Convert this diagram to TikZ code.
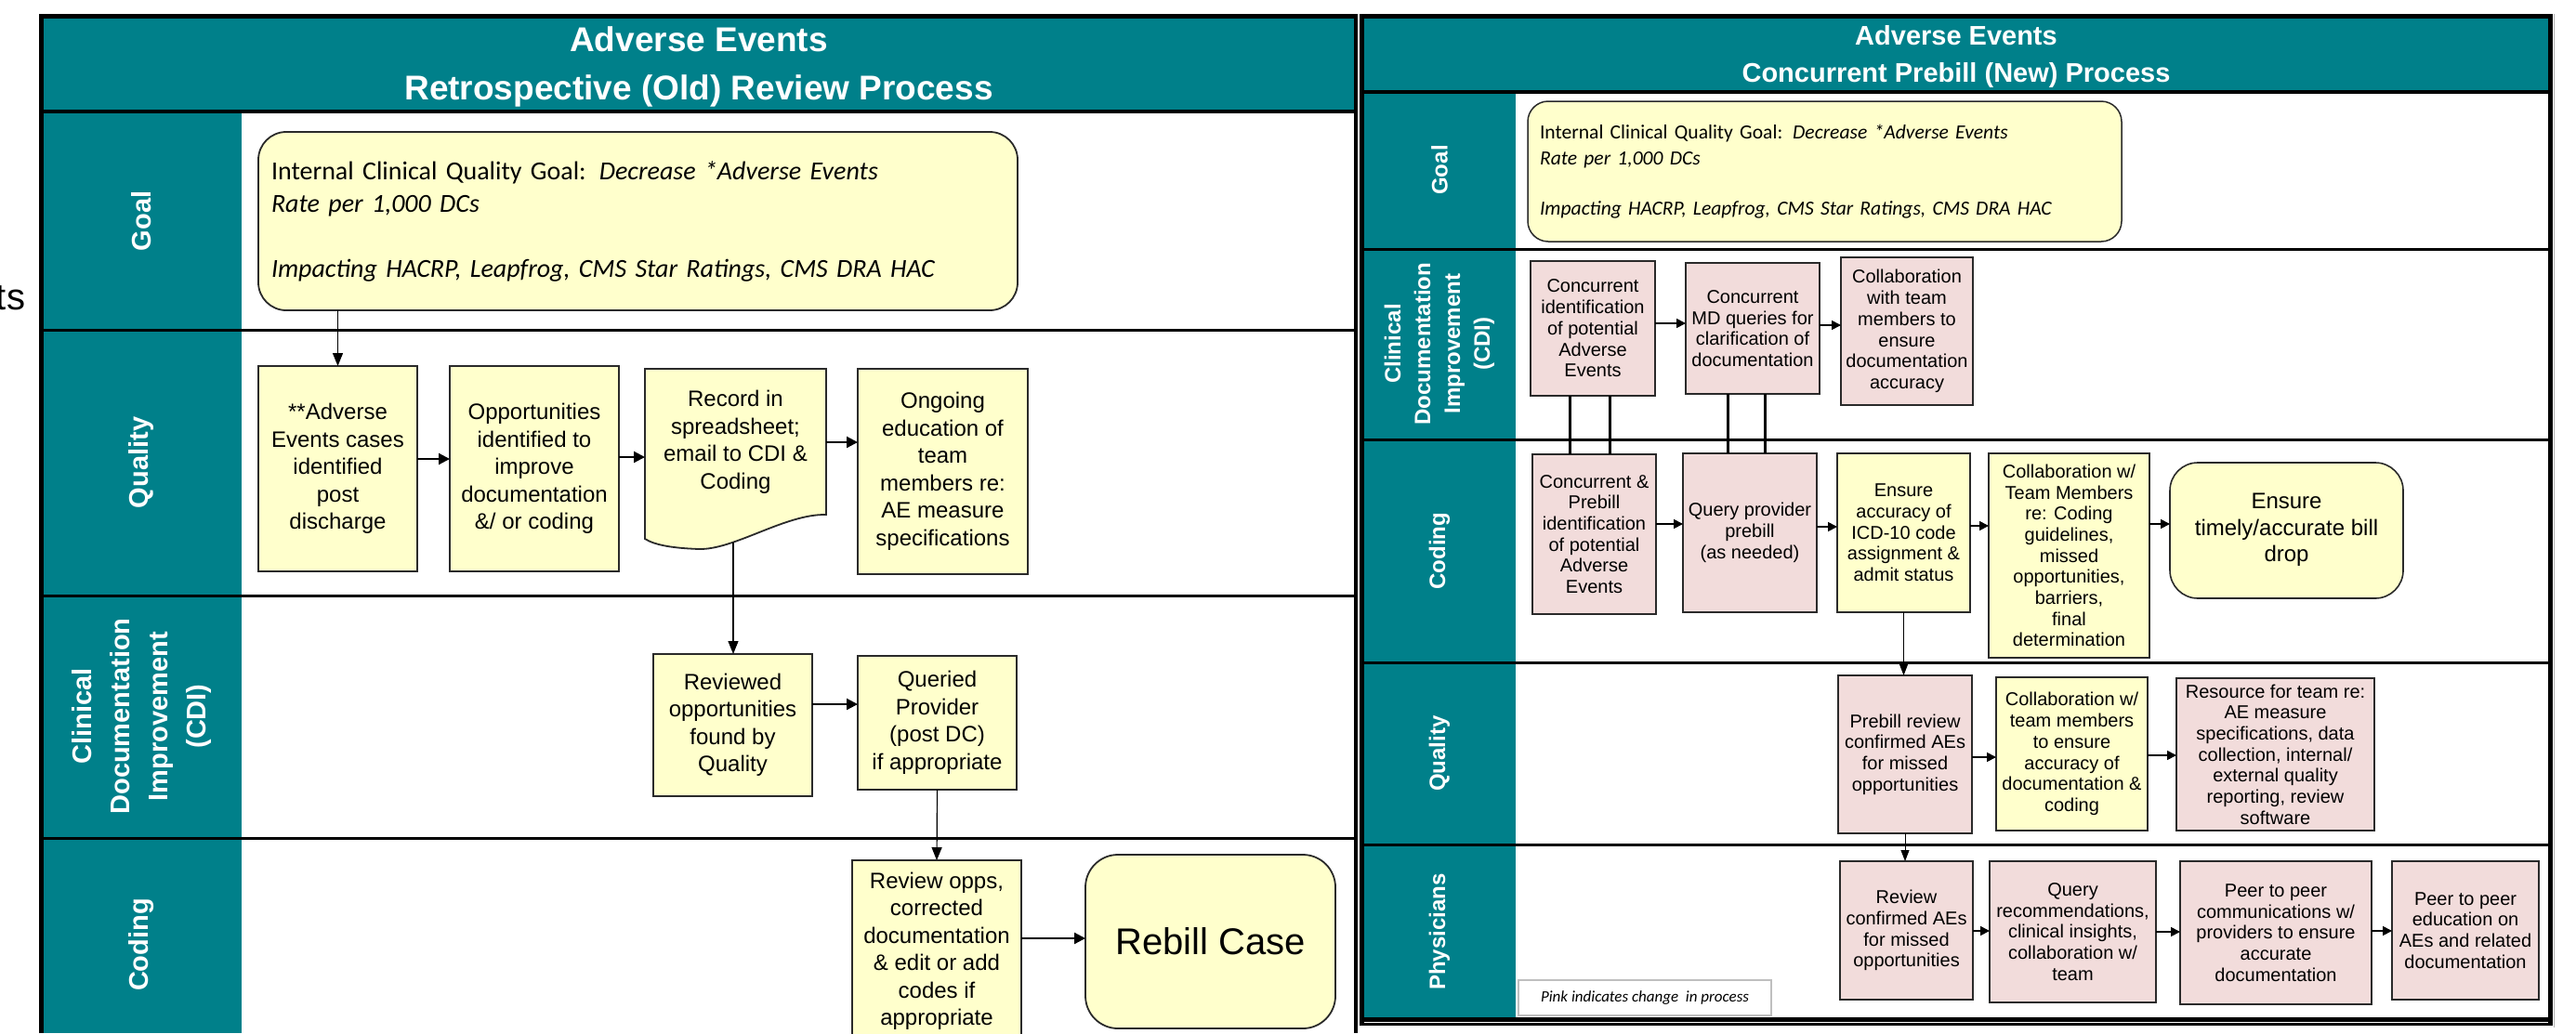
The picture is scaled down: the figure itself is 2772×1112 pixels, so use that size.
\documentclass[tikz,border=0pt]{standalone}
\usepackage{fontspec}
\setmainfont{Liberation Sans}
\newfontfamily\calfont{Carlito}
\usetikzlibrary{arrows.meta}
\definecolor{teal1}{HTML}{00808A}
\definecolor{ylw}{HTML}{FFFFCC}
\definecolor{pnk}{HTML}{F2DCDB}
\definecolor{bdr}{HTML}{2A2A2A}
\tikzset{
  lbox/.style={draw=bdr, line width=1.8pt, fill=ylw, align=center, font=\fontsize{24}{29.5}\selectfont},
  rbox/.style={draw=bdr, line width=1.3pt, fill=ylw, align=center, font=\fontsize{20}{22.7}\selectfont},
  pbox/.style={rbox, fill=pnk},
  goalbox/.style={draw=bdr, line width=1.8pt, fill=ylw, align=left},
  lanel/.style={text=white, font=\bfseries\fontsize{29}{41}\selectfont, align=center, rotate=90},
  laner/.style={text=white, font=\bfseries\fontsize{24}{32}\selectfont, align=center, rotate=90},
  harr/.style={line width=2.2pt, -{Triangle[length=12pt,width=12pt]}},
  varr/.style={line width=1.2pt, -{Triangle[length=14pt,width=11pt]}},
  harrr/.style={line width=1.6pt, -{Triangle[length=10pt,width=10pt]}},
  varrr/.style={line width=1pt, -{Triangle[length=12pt,width=9pt]}},
  frame/.style={line width=5pt, black},
  lane/.style={line width=3pt, black}
}
\begin{document}
\begin{tikzpicture}[x=1pt,y=-1pt, every node/.style={inner sep=0pt, outer sep=0pt}]
\useasboundingbox (0,0) rectangle (2772,1112);
% fragment at the left edge
\node[anchor=base east, font=\fontsize{40}{40}\selectfont] (frag) at (27,333) {ts};

% ================= LEFT PANEL =================
\fill[teal1] (47,20) rectangle (1457,118);
\fill[teal1] (47,120) rectangle (260,1112);
\draw[frame] (44.5,1112) -- (44.5,17.5) -- (1459,17.5);
\draw[line width=4pt] (1459,15) -- (1459,1112);
\draw[line width=4pt] (44,120) -- (1459,120);
\draw[lane] (44,355) -- (1459,355);
\draw[lane] (44,641) -- (1459,641);
\draw[lane] (44,902) -- (1459,902);

\node[text=white, align=center, font=\bfseries\fontsize{37}{52}\selectfont] (ltitle) at (752,72) {Adverse Events\\Retrospective (Old) Review Process};

\node[lanel] (lgoal) at (152,238) {Goal};
\node[lanel] (lqual) at (152,498) {Quality};
\node[lanel] (lcdi) at (152,771) {Clinical\\Documentation\\Improvement\\(CDI)};
\node[lanel] (lcod) at (152,1017) {Coding};

\node[goalbox, rounded corners=30pt, text width=789pt, inner xsep=14pt, minimum height=192pt, font=\calfont\fontsize{28}{35}\selectfont] (goal1) at (686.5,238)
  {Internal Clinical Quality Goal: \textit{Decrease *Adverse Events}\\ \textit{Rate per 1,000 DCs}\\[35pt] \textit{Impacting HACRP, Leapfrog, CMS Star Ratings, CMS DRA HAC}};

\node[lbox, minimum width=171pt, minimum height=221pt] (b1) at (363.5,504.5) {**Adverse\\Events cases\\identified\\post\\discharge};
\node[lbox, minimum width=182pt, minimum height=221pt] (b2) at (575,504.5) {Opportunities\\identified to\\improve\\documentation\\\&/ or coding};
\draw[line width=1.8pt, draw=bdr, fill=ylw] (694,397) -- (889,397) -- (889,554)
  .. controls (845,553) and (790,592) .. (752,591)
  .. controls (725,590) and (705,587) .. (694,580) -- cycle;
\node[align=center, font=\fontsize{24}{29.5}\selectfont, minimum width=195pt, minimum height=158pt] (rec) at (791.5,476) {Record in\\spreadsheet;\\email to CDI \&\\Coding};
\coordinate (recbot) at (789,584);
\node[lbox, minimum width=183pt, minimum height=221pt] (b4) at (1014.5,507.5) {Ongoing\\education of\\team\\members re:\\AE measure\\specifications};

\node[lbox, minimum width=171pt, minimum height=153pt] (rev) at (788.5,780.5) {Reviewed\\opportunities\\found by\\Quality};
\node[lbox, minimum width=171pt, minimum height=144pt] (qry) at (1008.5,778) {Queried\\Provider\\(post DC)\\if appropriate};
\node[lbox, minimum width=182pt, minimum height=196pt] (revw) at (1008,1024) {Review opps,\\corrected\\documentation\\\& edit or add\\codes if\\appropriate};
\node[lbox, rounded corners=35pt, minimum width=269pt, minimum height=187pt, font=\fontsize{40}{46}\selectfont] (rebill) at (1302.5,1013.5) {Rebill Case};

\draw[varr] (b1.north |- goal1.south) -- (b1.north);
\draw[harr] (b1.east |- 0,494) -- (b2.west |- 0,494);
\draw[harr] (b2.east |- 0,492) -- (rec.west |- 0,492);
\draw[harr] (rec.east) -- (b4.west |- rec.east);
\draw[varr] (recbot) -- (recbot |- rev.north);
\draw[harr] (rev.east |- 0,758) -- (qry.west |- 0,758);
\draw[varr] (qry.south) -- (revw.north);
\draw[harr] (revw.east |- 0,1010) -- (rebill.west |- 0,1010);

% ================= RIGHT PANEL =================
\fill[teal1] (1467,20) rectangle (2742,97);
\fill[teal1] (1467,98) rectangle (1631,1097);
\draw[frame] (1465,1104) -- (1465,17.5) -- (2744,17.5) -- (2744,1104);
\draw[line width=1pt, black!30] (2748,15) -- (2748,1106);
\draw[line width=4pt] (1465,98.5) -- (2744,98.5);
\draw[lane] (1465,268) -- (2744,268);
\draw[lane] (1465,473) -- (2744,473);
\draw[lane] (1465,713) -- (2744,713);
\draw[lane] (1465,909) -- (2744,909);
\draw[line width=5pt] (1463,1097.5) -- (2746,1097.5);
\draw[line width=3pt] (1463,1102.5) -- (2746,1102.5);

\node[text=white, align=center, font=\bfseries\fontsize{29}{40}\selectfont] (rtitle) at (2105,61) {Adverse Events\\Concurrent Prebill (New) Process};

\node[laner] (rgoal) at (1549,183) {Goal};
\node[laner] (rcdi) at (1549,370) {Clinical\\Documentation\\Improvement\\(CDI)};
\node[laner] (rcod) at (1549,593) {Coding};
\node[laner] (rqual) at (1549,811) {Quality};
\node[laner] (rphy) at (1549,1003) {Physicians};

\node[goalbox, line width=1.5pt, rounded corners=22pt, text width=613pt, inner xsep=13pt, minimum height=151pt, font=\calfont\fontsize{21.6}{28}\selectfont] (goal2) at (1963.5,184.5)
  {Internal Clinical Quality Goal: \textit{Decrease *Adverse Events}\\ \textit{Rate per 1,000 DCs}\\[26pt] \textit{Impacting HACRP, Leapfrog, CMS Star Ratings, CMS DRA HAC}};

\node[pbox, minimum width=134pt, minimum height=145pt] (c1) at (1714,353.5) {Concurrent\\identification\\of potential\\Adverse\\Events};
\node[pbox, minimum width=144pt, minimum height=141pt] (c2) at (1886,353.5) {Concurrent\\MD queries for\\clarification of\\documentation};
\node[pbox, minimum width=142pt, minimum height=159pt] (c3) at (2052,356.5) {Collaboration\\with team\\members to\\ensure\\documentation\\accuracy};

\node[pbox, minimum width=133pt, minimum height=172pt] (k1) at (1715.5,575) {Concurrent \&\\Prebill\\identification\\of potential\\Adverse\\Events};
\node[pbox, minimum width=144pt, minimum height=171pt] (k2) at (1883,573.5) {Query provider\\prebill\\(as needed)};
\node[rbox, minimum width=143pt, minimum height=171pt] (k3) at (2048.5,573.5) {Ensure\\accuracy of\\ICD-10 code\\assignment \&\\admit status};
\node[rbox, minimum width=173pt, minimum height=220pt] (k4) at (2226.5,598) {Collaboration w/\\Team Members\\re: Coding\\guidelines,\\missed\\opportunities,\\barriers,\\final\\determination};
\node[rbox, line width=1.6pt, rounded corners=30pt, minimum width=251pt, minimum height=146pt, font=\fontsize{24}{28.5}\selectfont] (k5) at (2460.5,571) {Ensure\\timely/accurate bill\\drop\rule[-6pt]{0pt}{6pt}};

\node[pbox, minimum width=144pt, minimum height=170pt] (q1) at (2050,812) {Prebill review\\confirmed AEs\\for missed\\opportunities};
\node[rbox, minimum width=163pt, minimum height=165pt] (q2) at (2229.5,811.5) {Collaboration w/\\team members\\to ensure\\accuracy of\\documentation \&\\coding};
\node[pbox, minimum width=213pt, minimum height=164pt] (q3) at (2448.5,812) {Resource for team re:\\AE measure\\specifications, data\\collection, internal/\\external quality\\reporting, review\\software};

\node[pbox, minimum width=143pt, minimum height=149pt] (p1) at (2051.5,1001.5) {Review\\confirmed AEs\\for missed\\opportunities};
\node[pbox, minimum width=179pt, minimum height=152pt] (p2) at (2230.5,1003) {Query\\recommendations,\\clinical insights,\\collaboration w/\\team};
\node[pbox, minimum width=206pt, minimum height=154pt] (p3) at (2449,1004) {Peer to peer\\communications w/\\providers to ensure\\accurate\\documentation};
\node[pbox, minimum width=158pt, minimum height=149pt] (p4) at (2653,1001.5) {Peer to peer\\education on\\AEs and related\\documentation};

\node[draw=black!25, line width=1.5pt, fill=white, minimum width=272pt, minimum height=38pt, font=\calfont\itshape\fontsize{17}{19}\selectfont] (legend) at (1770,1074) {Pink indicates change\ \ in process};

\draw[harrr] (c1.east |- 0,348) -- (c2.west |- 0,348);
\draw[harrr] (c2.east |- 0,350) -- (c3.west |- 0,350);
\draw[line width=3pt] (c1.south -| 1689,0) -- (k1.north -| 1689,0);
\draw[line width=3pt] (c1.south -| 1732,0) -- (k1.north -| 1732,0);
\draw[line width=3pt] (c2.south -| 1859,0) -- (k2.north -| 1859,0);
\draw[line width=3pt] (c2.south -| 1899,0) -- (k2.north -| 1899,0);
\draw[harrr] (k1.east |- 0,564) -- (k2.west |- 0,564);
\draw[harrr] (k2.east |- 0,567) -- (k3.west |- 0,567);
\draw[harrr] (k3.east |- 0,566) -- (k4.west |- 0,566);
\draw[harrr] (k4.east |- 0,564) -- (k5.west |- 0,564);
\draw[varrr] (k3.south) -- (k3.south |- q1.north);
\draw[harrr] (q1.east |- 0,815) -- (q2.west |- 0,815);
\draw[harrr] (q2.east |- 0,813) -- (q3.west |- 0,813);
\draw[varrr] (q1.south) -- (q1.south |- p1.north);
\draw[harrr] (p1.east |- 0,1002) -- (p2.west |- 0,1002);
\draw[harrr] (p2.east |- 0,1003) -- (p3.west |- 0,1003);
\draw[harrr] (p3.east |- 0,1002) -- (p4.west |- 0,1002);
\end{tikzpicture}
\end{document}
